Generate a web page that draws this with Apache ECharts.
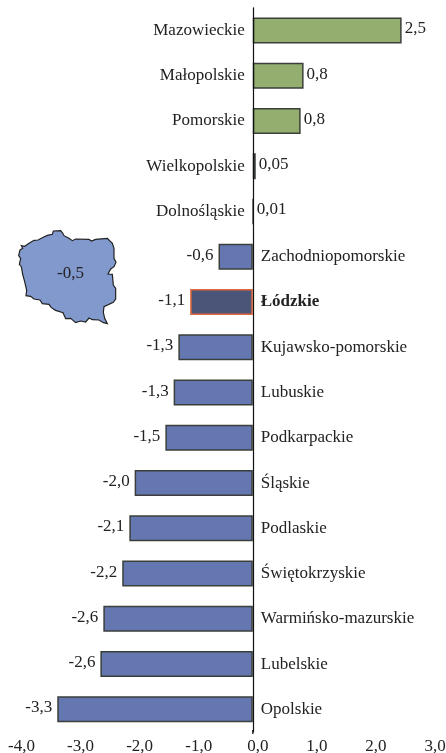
<!DOCTYPE html>
<html>
<head>
<meta charset="utf-8">
<style>
  html, body { margin: 0; padding: 0; background: #fff; }
  #chart { width: 446px; height: 753px; }
</style>
<script src="https://cdn.jsdelivr.net/npm/echarts@6/dist/echarts.min.js"></script>
</head>
<body>
<div id="chart"></div>
<script>
const regions = ['Mazowieckie', 'Małopolskie', 'Pomorskie', 'Wielkopolskie', 'Dolnośląskie', 'Zachodniopomorskie', 'Łódzkie', 'Kujawsko-pomorskie', 'Lubuskie', 'Podkarpackie', 'Śląskie', 'Podlaskie', 'Świętokrzyskie', 'Warmińsko-mazurskie', 'Lubelskie', 'Opolskie']
const values = [2.52, 0.86, 0.81, 0.05, 0.01, -0.58, -1.06, -1.26, -1.34, -1.48, -2.0, -2.09, -2.21, -2.53, -2.58, -3.31]
const valueLabels = ['2,5', '0,8', '0,8', '0,05', '0,01', '-0,6', '-1,1', '-1,3', '-1,3', '-1,5', '-2,0', '-2,1', '-2,2', '-2,6', '-2,6', '-3,3']
const tickLabels = ['-4,0', '-3,0', '-2,0', '-1,0', '0,0', '1,0', '2,0', '3,0']
const highlighted = 'Łódzkie'
const countryValue = '-0,5'
// outline of the inset map, traced at 3x from (14,225)
const countryOutline = [[18, 75], [26, 70], [22, 62], [32, 64], [45, 55], [60, 46], [72, 45], [85, 38], [100, 31], [115, 28], [118, 18], [140, 17], [146, 24], [150, 32], [165, 40], [175, 47], [185, 42], [225, 43], [232, 48], [245, 43], [280, 40], [295, 55], [300, 70], [300, 100], [306, 112], [300, 125], [290, 132], [282, 147], [295, 148], [298, 180], [305, 190], [305, 222], [298, 232], [270, 245], [268, 262], [272, 280], [280, 296], [268, 293], [255, 285], [235, 284], [225, 279], [215, 291], [200, 288], [185, 293], [170, 280], [155, 281], [147, 263], [125, 256], [112, 248], [105, 238], [85, 236], [78, 225], [60, 222], [50, 214], [36, 212], [38, 196], [32, 170], [26, 148], [22, 125], [16, 118], [20, 100], [14, 92]]
  .map(([x, y]) => [14 + x / 3, 225 + y / 3])

const serif = '"Liberation Serif", "Times New Roman", serif'
const fontSize = 17

const chart = echarts.init(document.getElementById('chart'))
chart.setOption({
  animation: false,
  backgroundColor: '#fff',
  grid: { left: 16.5, width: 413.5, top: 7.8, height: 724.2, outerBoundsMode: 'none' },
  xAxis: {
    type: 'value',
    min: -4,
    max: 3,
    interval: 1,
    offset: 2,
    splitLine: { show: false },
    axisLine: { onZero: false, lineStyle: { color: '#808080', width: 1 } },
    axisTick: { length: 3, lineStyle: { color: '#808080' } },
    axisLabel: {
      fontFamily: serif,
      fontSize: fontSize,
      color: '#222',
      margin: 4,
      padding: [0, 0, 0, 10],
      hideOverlap: false,
      formatter: (v) => tickLabels[v + 4]
    }
  },
  yAxis: {
    type: 'category',
    inverse: true,
    z: 5,
    data: regions,
    axisLine: { onZero: true, lineStyle: { color: '#111', width: 1.2 } },
    axisTick: { show: false },
    axisLabel: { show: false }
  },
  series: [
    {
      type: 'bar',
      barWidth: 26,
      barGap: '-100%',
      data: values.map((v, i) => ({
        value: v,
        itemStyle: {
          color: regions[i] === highlighted ? '#4a5578' : v > 0 ? '#93ae6e' : '#6577b0',
          borderColor: regions[i] === highlighted ? '#e2673c' : '#3a3f3a',
          borderWidth: 1.5
        },
        label: {
          show: true,
          position: v > 0 ? 'right' : 'left',
          distance: v > 0 ? 3 : 5,
          offset: [0, -1.5],
          formatter: valueLabels[i]
        }
      })),
      label: { fontFamily: serif, fontSize: fontSize, color: '#222' }
    },
    {
      // second series holds the region names beside the axis
      type: 'bar',
      barWidth: 26,
      barGap: '-100%',
      silent: true,
      itemStyle: { color: 'transparent' },
      data: values.map((v, i) => ({
        value: 0,
        label: {
          show: true,
          position: v > 0 ? 'left' : 'right',
          distance: 8,
          formatter: regions[i],
          fontWeight: regions[i] === highlighted ? 'bold' : 'normal'
        }
      })),
      label: { fontFamily: serif, fontSize: fontSize, color: '#222' }
    }
  ]
})

// the zero line runs on down to the value axis, drawn once the scale is known
const zeroX = chart.convertToPixel({ xAxisIndex: 0 }, 0)
chart.setOption({
  graphic: [
    {
      type: 'polygon',
      shape: { points: countryOutline },
      style: { fill: '#8199cc', stroke: '#222', lineWidth: 1.2 }
    },
    {
      type: 'text',
      x: 57,
      y: 274,
      style: { text: countryValue, fontFamily: serif, fontSize: fontSize, fill: '#222', verticalAlign: 'middle' }
    },
    {
      type: 'line',
      shape: { x1: zeroX, y1: 730, x2: zeroX, y2: 734 },
      style: { stroke: '#111', lineWidth: 1.2 }
    }
  ]
})
</script>
</body>
</html>
